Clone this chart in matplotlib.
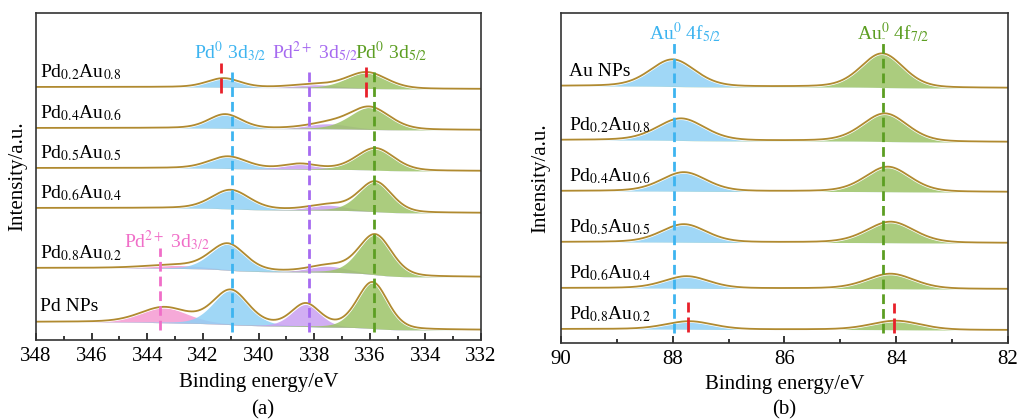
import numpy as np
import matplotlib
matplotlib.use("Agg")
import matplotlib.pyplot as plt
from matplotlib.ticker import MultipleLocator

plt.rcParams['font.family'] = ['Liberation Serif', 'DejaVu Serif']
plt.rcParams['mathtext.fontset'] = 'stix'

# colours
C_PINK = '#f59ad2'
C_BLUE = '#8fd0f5'
C_PURP = '#c9a0f2'
C_GREEN = '#9cc468'
L_PINK = '#f06ec8'
L_BLUE = '#3db4f0'
L_PURP = '#a66af0'
L_GREEN = '#5c9e22'
L_RED = '#e8202a'
ENV = '#b08a30'

# ---- panel (a): Pd 3d ----
samples_a = ['Pd$_{0.2}$Au$_{0.8}$', 'Pd$_{0.4}$Au$_{0.6}$', 'Pd$_{0.5}$Au$_{0.5}$',
             'Pd$_{0.6}$Au$_{0.4}$', 'Pd$_{0.8}$Au$_{0.2}$', 'Pd NPs']
bg_left_a = [253, 212, 172, 132, 72, 18]
bg_right_a = [251, 210, 169, 127, 63, 10]
# components: pink Pd2+ 3d3/2, blue Pd0 3d3/2, purple Pd2+ 3d5/2, green Pd0 3d5/2
pink_c = [343.0, 343.0, 343.0, 343.0, 343.0, 343.4]
pink_h = [0, 0, 0, 0, 3, 15]
pink_w = [2.0, 2.0, 2.0, 2.0, 2.5, 2.0]
blue_c = [341.25, 341.2, 341.1, 341.0, 341.1, 341.0]
blue_h = [9, 14, 12, 19, 26, 34]
blue_w = [1.4, 1.4, 1.6, 1.6, 1.5, 1.5]
purp_c = [338.0, 337.5, 338.5, 337.5, 337.5, 338.3]
purp_h = [3, 5, 5, 5, 6, 22]
purp_w = [2.0, 1.8, 1.4, 1.6, 1.6, 1.2]
green_c = [336.1, 336.0, 335.8, 335.8, 335.8, 335.9]
green_h = [16, 22, 22, 30, 40, 46]
green_w = [1.7, 1.7, 1.6, 1.4, 1.4, 1.3]

# ---- panel (b): Au 4f ----
samples_b = ['Au NPs', 'Pd$_{0.2}$Au$_{0.8}$', 'Pd$_{0.4}$Au$_{0.6}$',
             'Pd$_{0.5}$Au$_{0.5}$', 'Pd$_{0.6}$Au$_{0.4}$', 'Pd$_{0.8}$Au$_{0.2}$']
bg_left_b = [257, 203, 152, 101, 55, 14]
bg_right_b = [255, 201, 151, 100, 54, 13]
f52_c = [88.0, 87.85, 87.8, 87.8, 87.75, 87.7]
f52_h = [27, 22, 19, 18, 12, 8]
f52_w = [0.95, 1.0, 0.95, 0.95, 0.95, 1.0]
f72_c = [84.25, 84.2, 84.15, 84.1, 84.1, 84.0]
f72_h = [34, 28, 25, 21, 15, 9]
f72_w = [0.9, 0.95, 0.95, 1.0, 1.0, 1.05]


def pv(x, c, h, w, eta=0.25):
    s = w / 2.3548
    g = np.exp(-(x - c) ** 2 / (2 * s ** 2))
    l = 1.0 / (1 + ((x - c) / (w / 2)) ** 2)
    return h * ((1 - eta) * g + eta * l)


def draw_spectrum(ax, x, comps, colors, left, right, label, label_x):
    peaks = [pv(x, *p) for p in comps]
    total = np.sum(peaks, axis=0)
    # shirley-like step: cumulative area from low binding energy side
    order = np.argsort(x)
    cum = np.cumsum(total[order])
    frac = np.empty_like(cum)
    frac[order] = cum / cum[-1] if cum[-1] > 0 else cum
    bg = right + (left - right) * frac
    for p, col in zip(peaks, colors):
        if p.max() <= 0:
            continue
        ax.fill_between(x, bg, bg + p, color=col, alpha=0.85, lw=0)
    ax.plot(x, bg + total, color='white', lw=2.4)
    ax.plot(x, bg + total, color=ENV, lw=1.3)
    ax.text(label_x, left + 15, label, fontsize=14, ha='left', va='center')


fig = plt.figure(figsize=(10.17, 4.2), dpi=100)
ax1 = fig.add_axes([0.0354, 0.1905, 0.4376, 0.7786])
ax2 = fig.add_axes([0.5516, 0.1833, 0.4395, 0.7857])

xa = np.linspace(348, 332, 800)
for i in range(len(samples_a)):
    comps = [(pink_c[i], pink_h[i], pink_w[i]), (blue_c[i], blue_h[i], blue_w[i]),
             (purp_c[i], purp_h[i], purp_w[i]), (green_c[i], green_h[i], green_w[i])]
    draw_spectrum(ax1, xa, comps, [C_PINK, C_BLUE, C_PURP, C_GREEN],
                  bg_left_a[i], bg_right_a[i], samples_a[i], 347.85)

dash = (0, (3.5, 1.8))
red_dash = (0, (5.4, 1.8))
ax1.plot([340.95, 340.95], [8, 273], color=L_BLUE, lw=2, ls=dash)
ax1.plot([338.17, 338.17], [8, 273], color=L_PURP, lw=2, ls=dash)
ax1.plot([335.84, 335.84], [8, 270], color=L_GREEN, lw=2, ls=dash)
ax1.plot([343.55, 343.55], [10, 92], color=L_PINK, lw=2, ls=dash)
ax1.plot([341.35, 341.35], [247, 277], color=L_RED, lw=2, ls=red_dash)
ax1.plot([336.13, 336.13], [243, 273], color=L_RED, lw=2, ls=red_dash)

ax1.text(341.0, 288, 'Pd$^0$ 3d$_{3/2}$', color=L_BLUE, fontsize=14, ha='center', va='center')
ax1.text(337.96, 288, 'Pd$^{2+}$ 3d$_{5/2}$', color=L_PURP, fontsize=14, ha='center', va='center')
ax1.text(335.23, 288, 'Pd$^0$ 3d$_{5/2}$', color=L_GREEN, fontsize=14, ha='center', va='center')
ax1.text(343.3, 99, 'Pd$^{2+}$ 3d$_{3/2}$', color=L_PINK, fontsize=14, ha='center', va='center')

ax1.set_xlim(348, 332)
ax1.set_ylim(0, 327)
ax1.xaxis.set_major_locator(MultipleLocator(2))
ax1.xaxis.set_minor_locator(MultipleLocator(1))
ax1.set_xlabel('Binding energy/eV', fontsize=15, labelpad=5)
ax1.set_ylabel('Intensity/a.u.', fontsize=15, labelpad=6)
fig.text(0.2585, 0.024, '(a)', ha='center', va='center', fontsize=15)

xb = np.linspace(90, 82, 800)
for i in range(len(samples_b)):
    comps = [(f52_c[i], f52_h[i], f52_w[i]), (f72_c[i], f72_h[i], f72_w[i])]
    draw_spectrum(ax2, xb, comps, [C_BLUE, C_GREEN],
                  bg_left_b[i], bg_right_b[i], samples_b[i], 89.86)

ax2.plot([87.98, 87.98], [10, 305], color=L_BLUE, lw=2, ls=dash)
ax2.plot([84.24, 84.24], [10, 305], color=L_GREEN, lw=2, ls=dash)
ax2.plot([87.73, 87.73], [11, 41], color=L_RED, lw=2, ls=red_dash)
ax2.plot([84.04, 84.04], [10, 40], color=L_RED, lw=2, ls=red_dash)
ax2.text(87.78, 310, 'Au$^0$ 4f$_{5/2}$', color=L_BLUE, fontsize=14, ha='center', va='center')
ax2.text(84.06, 310, 'Au$^0$ 4f$_{7/2}$', color=L_GREEN, fontsize=14, ha='center', va='center')

ax2.set_xlim(90, 82)
ax2.set_ylim(0, 330)
ax2.xaxis.set_major_locator(MultipleLocator(2))
ax2.xaxis.set_minor_locator(MultipleLocator(1))
ax2.set_xlabel('Binding energy/eV', fontsize=15, labelpad=4)
ax2.set_ylabel('Intensity/a.u.', fontsize=15, labelpad=8)
fig.text(0.7713, 0.024, '(b)', ha='center', va='center', fontsize=15)

for ax in (ax1, ax2):
    ax.set_yticks([])
    ax.tick_params(axis='x', which='both', direction='in', labelsize=15, width=1.1, pad=5)
    ax.tick_params(axis='x', which='major', length=5)
    ax.tick_params(axis='x', which='minor', length=3)
    for sp in ax.spines.values():
        sp.set_color('#333333')
        sp.set_linewidth(1.2)

fig.savefig('out.png', dpi=100)
